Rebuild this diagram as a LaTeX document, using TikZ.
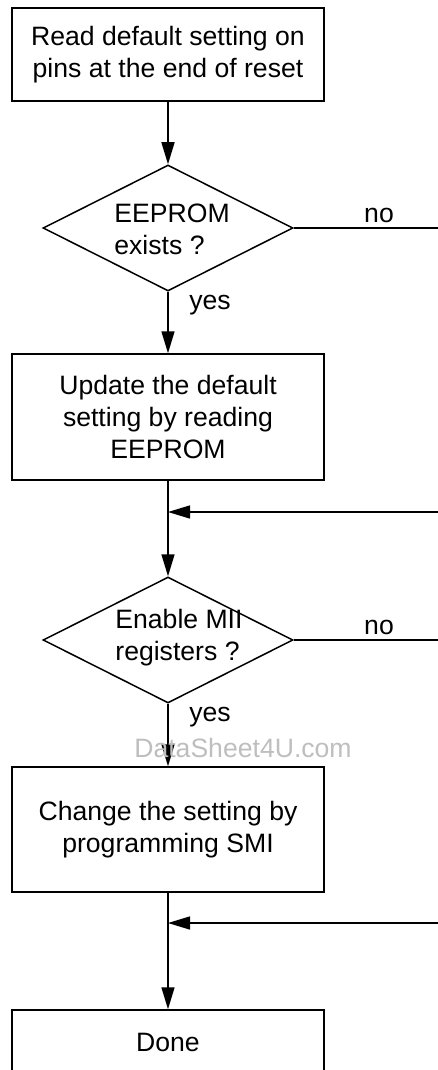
\documentclass[tikz,border=0pt]{standalone}
\usepackage{fontspec}
\setmainfont{Liberation Sans}
\usetikzlibrary{shapes.geometric,arrows.meta}
\definecolor{marklight}{HTML}{BEBEBE}

\begin{document}
\begin{tikzpicture}[x=0.5pt, y=-0.5pt,
  stepbox/.style={draw, rectangle, line width=0.75pt, minimum width=156pt, align=center, inner sep=0pt, font=\fontsize{13.3pt}{16pt}\selectfont},
  askbox/.style={draw, diamond, line width=0.75pt, minimum width=125pt, minimum height=63pt, inner sep=0pt},
  asktext/.style={align=left, anchor=west, inner sep=0pt, font=\fontsize{13.3pt}{16pt}\selectfont},
  flow/.style={line width=0.75pt, -{Triangle[length=11pt, width=6.5pt]}},
  tag/.style={font=\fontsize{13.3pt}{15pt}\selectfont, inner sep=0pt}]
\useasboundingbox (0,0) rectangle (438,1070);%
\node[stepbox, minimum height=46.5pt] (read) at (168, 54.5) {Read default setting on\\pins at the end of reset};%
\node[askbox] (eeprom) at (168, 228) {};%
\node[asktext] (eepromtext) at (114, 229) {EEPROM\\exists ?};%
\node[stepbox, minimum height=63pt] (update) at (168, 417) {Update the default\\setting by reading\\EEPROM};%
\node[askbox] (mii) at (168, 640) {};%
\node[asktext] (miitext) at (115, 638) {Enable MII\\registers ?};%
\node[stepbox, minimum height=62.5pt] (smi) at (168, 829.5) {Change the setting by\\programming SMI};%
\node[stepbox, minimum height=32pt] (done) at (168, 1042) {Done};%
\coordinate (no1) at (438, 228);%
\coordinate (no2) at (438, 640);%
\coordinate (in1) at (438, 512);%
\coordinate (in2) at (438, 923);%
\coordinate (j1) at (168, 512);%
\coordinate (j2) at (168, 923);%
\draw[flow] (read) -- (eeprom);%
\draw[flow] (eeprom) -- (update);%
\draw[line width=0.75pt] (eeprom.east) -- (no1);%
\draw[flow] (update) -- (mii);%
\draw[flow] (in1) -- (j1);%
\draw[flow] (mii) -- (smi);%
\draw[line width=0.75pt] (mii.east) -- (no2);%
\draw[flow] (smi) -- (done);%
\draw[flow] (in2) -- (j2);%
\node[tag] (yes1) at (210, 305) {yes};%
\node[tag] (yes2) at (210, 717) {yes};%
\node[tag] (nolabel1) at (379, 215) {no};%
\node[tag] (nolabel2) at (379, 627) {no};%
\node[tag, text=marklight] (mark) at (243, 748) {DataSheet4U.com};%
\end{tikzpicture}
\end{document}
